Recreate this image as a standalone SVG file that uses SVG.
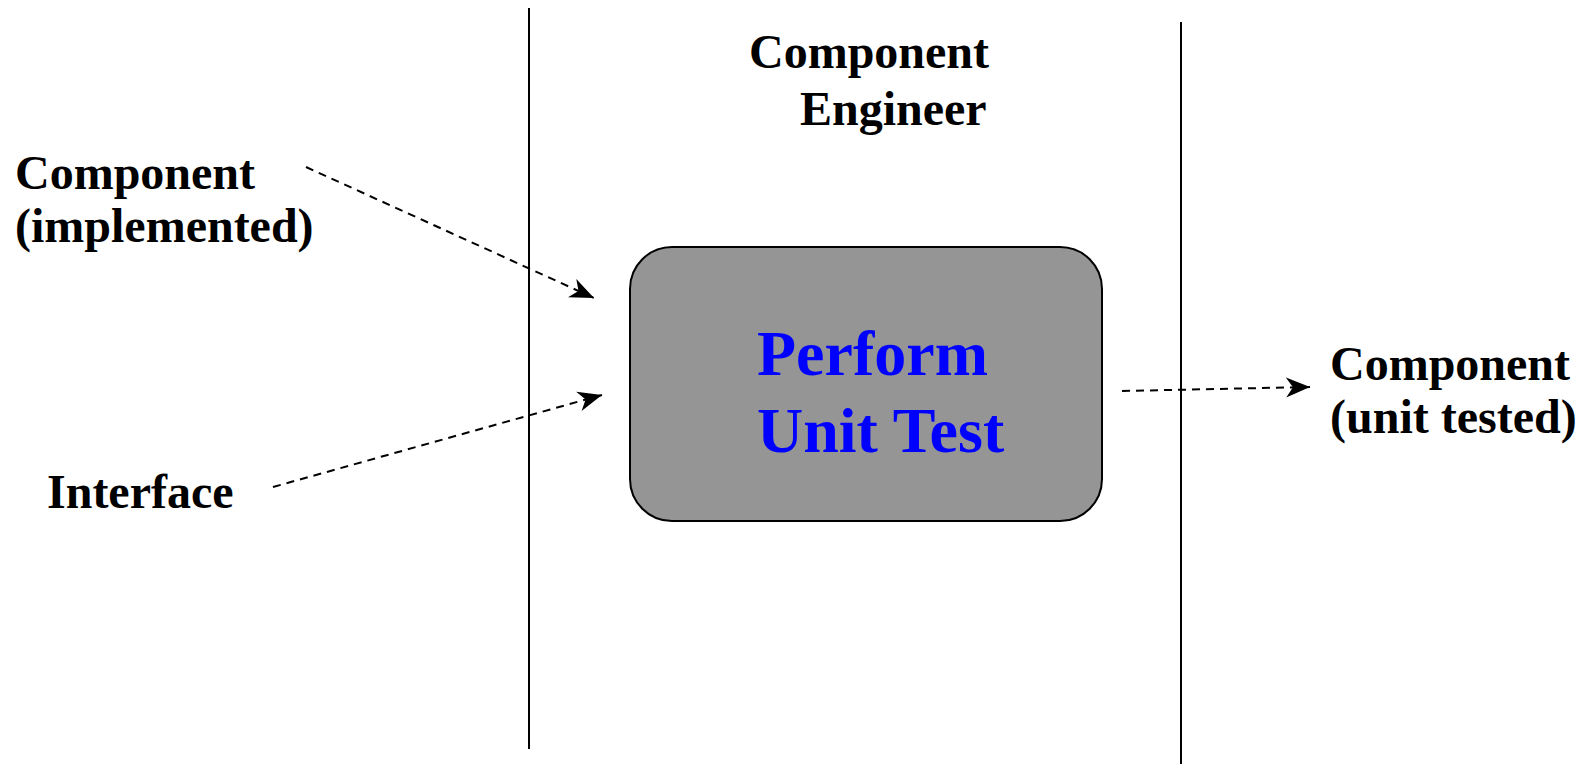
<svg xmlns="http://www.w3.org/2000/svg" width="1586" height="764" viewBox="0 0 1586 764">
<style>
.lbl{font-family:"Liberation Serif","Times New Roman",serif;font-weight:bold;font-size:48px;fill:#000}
.title{font-family:"Liberation Serif","Times New Roman",serif;font-weight:bold;font-size:64px;fill:#0000FF}
.lane{stroke:#000;stroke-width:2;fill:none}
.flow{stroke:#000;stroke-width:2;stroke-dasharray:8 6;fill:none}
</style>
<defs>
<marker id="ah" markerUnits="userSpaceOnUse" markerWidth="26" markerHeight="22" refX="24" refY="10" orient="auto" viewBox="0 0 26 20">
<path d="M0,0 L24,10 L0,20 L7,10 Z" fill="#000"/>
</marker>
</defs>
<rect width="1586" height="764" fill="#fff"/>
<g id="lanes">
<line class="lane" x1="529" y1="8" x2="529" y2="749"/>
<line class="lane" x1="1181" y1="22" x2="1181" y2="764"/>
</g>
<g id="lane-title">
<text class="lbl" x="749" y="68">Component</text>
<text class="lbl" x="800" y="125">Engineer</text>
</g>
<g id="in-component">
<text class="lbl" x="15" y="189">Component</text>
<text class="lbl" x="15" y="242">(implemented)</text>
</g>
<g id="in-interface">
<text class="lbl" x="47" y="508">Interface</text>
</g>
<g id="out-component">
<text class="lbl" x="1330" y="380">Component</text>
<text class="lbl" x="1330" y="433">(unit tested)</text>
</g>
<g id="task">
<rect x="630" y="247" width="472" height="274" rx="42" ry="42" fill="#959595" stroke="#000" stroke-width="2"/>
<text class="title" x="757" y="375">Perform</text>
<text class="title" x="757" y="452">Unit Test</text>
</g>
<g id="connectors">
<line class="flow" x1="306" y1="167" x2="594" y2="298" marker-end="url(#ah)"/>
<line class="flow" x1="273" y1="487" x2="602" y2="395" marker-end="url(#ah)"/>
<line class="flow" x1="1122" y1="391" x2="1310" y2="387" marker-end="url(#ah)"/>
</g>
</svg>
